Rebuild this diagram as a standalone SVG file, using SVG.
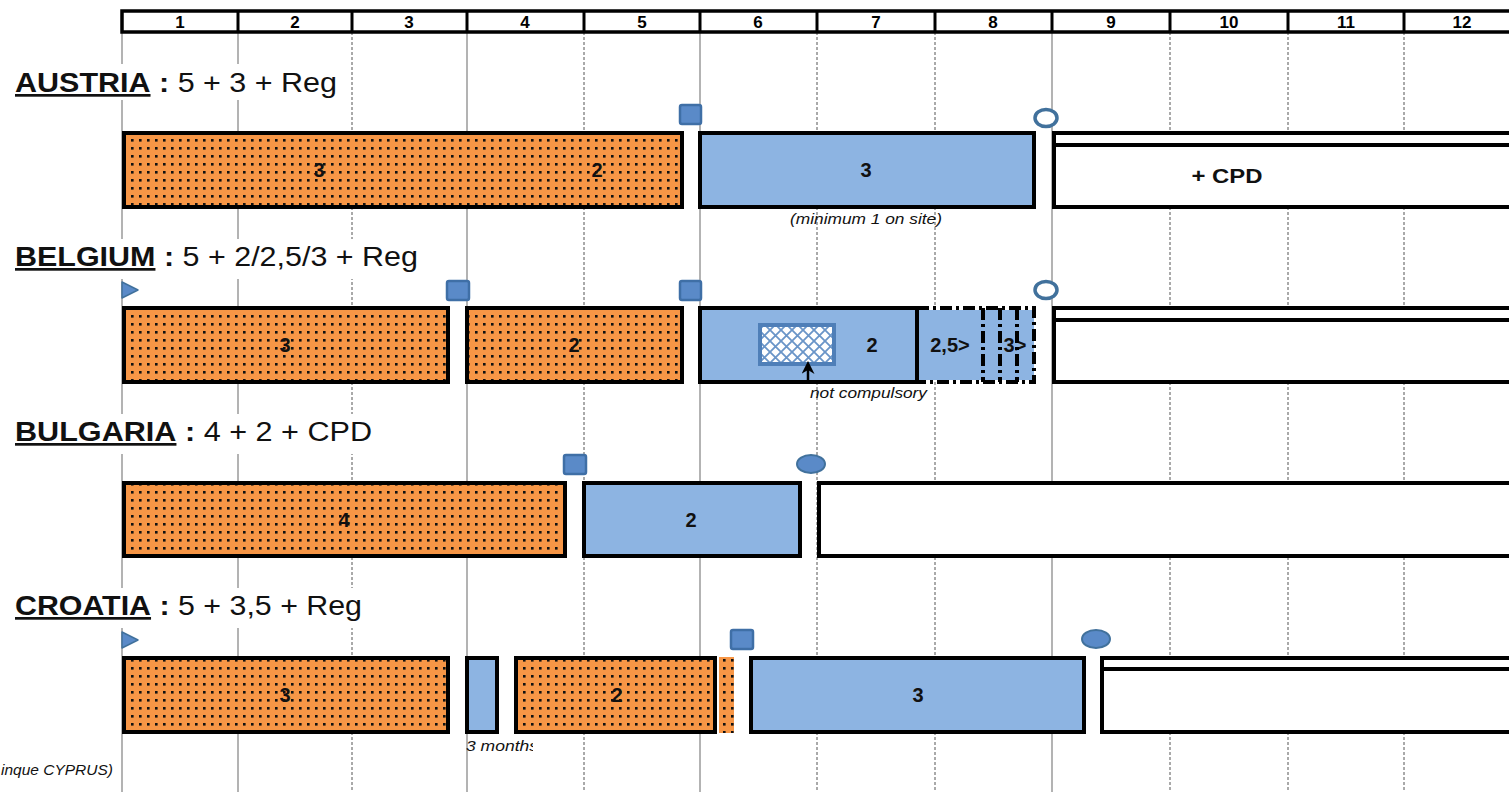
<svg xmlns="http://www.w3.org/2000/svg" width="1509" height="792" viewBox="0 0 1509 792">
<style>
.hd{font-family:"Liberation Sans",Arial,sans-serif;font-weight:bold;font-size:17px;text-anchor:middle}
.lbl{font-family:"Liberation Sans",Arial,sans-serif;font-size:27px;fill:#111}
.lbl .c{font-weight:bold;text-decoration:underline}
.lbl .k{font-weight:bold}
.num{font-family:"Liberation Sans",Arial,sans-serif;font-weight:bold;font-size:20px;text-anchor:middle;fill:#111}
.note{font-family:"Liberation Sans",Arial,sans-serif;font-style:italic;font-size:14px;fill:#111}
.box{stroke:#000;stroke-width:4}
.or{fill:url(#dots)}
.bl{fill:#8db4e2}
.wh{fill:#fff}
.gs{stroke:#8a8a8a;stroke-width:1.3}
.gd{stroke:#555;stroke-width:1;stroke-dasharray:3 2}
.sq{fill:#5a8ac8;stroke:#3f6fa6;stroke-width:2.5}
.ov{fill:#fff;stroke:#41719c;stroke-width:3.5}
.ovf{fill:#5a8ac8;stroke:#41719c;stroke-width:2}
.tri{fill:#5a8ac8;stroke:#41719c;stroke-width:1.5;stroke-linejoin:round}
</style>
<defs>
<pattern id="dots" width="8" height="8" patternUnits="userSpaceOnUse">
<rect width="8" height="8" fill="#f79646"/>
<rect x="3" y="3" width="2.6" height="2.6" fill="#111"/>
</pattern>
<pattern id="hatch" width="11" height="11" patternUnits="userSpaceOnUse">
<rect width="11" height="11" fill="#fff"/>
<path d="M0,0 L11,11 M11,0 L0,11" stroke="#6a95c8" stroke-width="1.8"/>
</pattern>
<marker id="arr" viewBox="0 0 10 10" refX="3" refY="5" markerWidth="13" markerHeight="13" markerUnits="userSpaceOnUse" orient="auto">
<path d="M0,0 L10,5 L0,10 L3,5 z" fill="#000"/>
</marker>
<clipPath id="clipMonths"><rect x="460" y="735" width="73" height="20"/></clipPath>
<clipPath id="clipDash"><rect x="919" y="310" width="114" height="70"/></clipPath>
</defs>
<rect width="1509" height="792" fill="#fff"/>

<g id="grid">
<line class="gs" x1="122" y1="32" x2="122" y2="792"/>
<line class="gs" x1="238" y1="32" x2="238" y2="792"/>
<line class="gd" x1="352" y1="32" x2="352" y2="792"/>
<line class="gs" x1="467" y1="32" x2="467" y2="792"/>
<line class="gd" x1="584" y1="32" x2="584" y2="792"/>
<line class="gs" x1="700" y1="32" x2="700" y2="792"/>
<line class="gd" x1="817" y1="32" x2="817" y2="792"/>
<line class="gd" x1="935" y1="32" x2="935" y2="792"/>
<line class="gs" x1="1052" y1="32" x2="1052" y2="792"/>
<line class="gd" x1="1170" y1="32" x2="1170" y2="792"/>
<line class="gd" x1="1288" y1="32" x2="1288" y2="792"/>
<line class="gd" x1="1404" y1="32" x2="1404" y2="792"/>
</g>

<g id="header">
<rect x="122" y="11" width="1400" height="21" fill="#fff" stroke="#000" stroke-width="3.5"/>
<g stroke="#000" stroke-width="3">
<line x1="238" y1="11" x2="238" y2="32"/><line x1="352" y1="11" x2="352" y2="32"/>
<line x1="467" y1="11" x2="467" y2="32"/><line x1="584" y1="11" x2="584" y2="32"/>
<line x1="700" y1="11" x2="700" y2="32"/><line x1="817" y1="11" x2="817" y2="32"/>
<line x1="935" y1="11" x2="935" y2="32"/><line x1="1052" y1="11" x2="1052" y2="32"/>
<line x1="1170" y1="11" x2="1170" y2="32"/><line x1="1288" y1="11" x2="1288" y2="32"/>
<line x1="1404" y1="11" x2="1404" y2="32"/>
</g>
<text class="hd" x="180" y="28">1</text><text class="hd" x="295" y="28">2</text>
<text class="hd" x="409" y="28">3</text><text class="hd" x="525" y="28">4</text>
<text class="hd" x="642" y="28">5</text><text class="hd" x="758" y="28">6</text>
<text class="hd" x="876" y="28">7</text><text class="hd" x="993" y="28">8</text>
<text class="hd" x="1111" y="28">9</text><text class="hd" x="1229" y="28">10</text>
<text class="hd" x="1346" y="28">11</text><text class="hd" x="1462" y="28">12</text>
</g>

<g id="austria">
<rect x="10" y="64" width="330" height="36" fill="#fff"/>
<text class="lbl" x="15" y="92" textLength="322" lengthAdjust="spacingAndGlyphs"><tspan class="c">AUSTRIA</tspan> <tspan class="k">:</tspan> 5 + 3 + Reg</text>
<rect class="box or" x="124" y="133" width="558" height="74"/>
<text class="num" x="319" y="177">3</text><text class="num" x="597" y="177">2</text>
<rect class="box bl" x="700" y="133" width="334" height="74"/>
<text class="num" x="866" y="177">3</text>
<rect class="box wh" x="1054" y="133" width="470" height="74"/>
<line x1="1054" y1="145" x2="1524" y2="145" stroke="#000" stroke-width="4"/>
<text class="num" x="1227" y="183" textLength="71" lengthAdjust="spacingAndGlyphs">+ CPD</text>
<text class="note" x="866" y="224" text-anchor="middle" textLength="152" lengthAdjust="spacingAndGlyphs">(minimum 1 on site)</text>
<rect class="sq" x="680" y="105" width="21" height="19" rx="2"/>
<ellipse class="ov" cx="1046" cy="118" rx="11" ry="8.5"/>
</g>

<g id="belgium">
<rect x="10" y="239" width="413" height="40" fill="#fff"/>
<text class="lbl" x="15" y="266" textLength="403" lengthAdjust="spacingAndGlyphs"><tspan class="c">BELGIUM</tspan> <tspan class="k">:</tspan> 5 + 2/2,5/3 + Reg</text>
<path class="tri" d="M122,282 L138,290 L122,298 z"/>
<rect class="box or" x="124" y="308" width="324" height="74"/>
<text class="num" x="285" y="352">3</text>
<rect class="box or" x="467" y="308" width="215" height="74"/>
<text class="num" x="574" y="352">2</text>
<rect class="box bl" x="700" y="308" width="217" height="74"/>
<rect x="760" y="325" width="74" height="39" fill="url(#hatch)" stroke="#4f7fb8" stroke-width="4"/>
<text class="num" x="872" y="352">2</text>
<rect x="919" y="310" width="115" height="70" fill="#8db4e2"/>
<g clip-path="url(#clipDash)">
<text class="num" x="1015" y="352" text-anchor="start">3&gt;</text>
</g>
<text class="num" x="950" y="352">2,5&gt;</text>
<g stroke="#000" stroke-width="4" stroke-dasharray="12 4 3 4" fill="none">
<path d="M917,308 L1034,308 L1034,382 L917,382"/>
<line x1="983" y1="308" x2="983" y2="382"/>
<line x1="1000" y1="308" x2="1000" y2="382"/>
<line x1="1017" y1="308" x2="1017" y2="382"/>
</g>
<rect class="box wh" x="1054" y="308" width="470" height="74"/>
<line x1="1054" y1="320" x2="1524" y2="320" stroke="#000" stroke-width="4"/>
<text class="note" x="810" y="398" textLength="117" lengthAdjust="spacingAndGlyphs">not compulsory</text>
<rect class="sq" x="447" y="281" width="22" height="19" rx="2"/>
<rect class="sq" x="680" y="281" width="21" height="19" rx="2"/>
<ellipse class="ov" cx="1046" cy="290" rx="11" ry="8.5"/>
</g>

<g id="bulgaria">
<rect x="10" y="414" width="367" height="40" fill="#fff"/>
<text class="lbl" x="15" y="441" textLength="357" lengthAdjust="spacingAndGlyphs"><tspan class="c">BULGARIA</tspan> <tspan class="k">:</tspan> 4 + 2 + CPD</text>
<rect class="box or" x="124" y="483" width="441" height="73"/>
<text class="num" x="344" y="527">4</text>
<rect class="box bl" x="584" y="483" width="216" height="73"/>
<text class="num" x="691" y="527">2</text>
<rect class="box wh" x="819" y="483" width="705" height="73"/>
<rect class="sq" x="564" y="455" width="22" height="19" rx="2"/>
<ellipse class="ovf" cx="811" cy="464" rx="14" ry="9"/>
</g>

<g id="croatia">
<rect x="10" y="588" width="357" height="40" fill="#fff"/>
<text class="lbl" x="15" y="615" textLength="347" lengthAdjust="spacingAndGlyphs"><tspan class="c">CROATIA</tspan> <tspan class="k">:</tspan> 5 + 3,5 + Reg</text>
<path class="tri" d="M122,632 L138,640 L122,648 z"/>
<rect class="box or" x="124" y="658" width="324" height="74"/>
<text class="num" x="285" y="702">3</text>
<rect class="box bl" x="467" y="658" width="30" height="74"/>
<rect class="box or" x="516" y="658" width="199" height="74"/>
<text class="num" x="617" y="702">2</text>
<rect x="719" y="657" width="15" height="76" fill="url(#dots)"/>
<rect class="box bl" x="751" y="658" width="333" height="74"/>
<text class="num" x="918" y="702">3</text>
<rect class="box wh" x="1102" y="658" width="422" height="74"/>
<line x1="1102" y1="669" x2="1524" y2="669" stroke="#000" stroke-width="4"/>
<rect class="sq" x="731" y="630" width="22" height="19" rx="2"/>
<ellipse class="ovf" cx="1096" cy="639" rx="14" ry="9"/>
<text class="note" x="466" y="751" clip-path="url(#clipMonths)" textLength="72" lengthAdjust="spacingAndGlyphs">3 months</text>
<text class="note" x="1" y="775" textLength="112" lengthAdjust="spacingAndGlyphs">inque CYPRUS)</text>
</g>

<g id="connectors">
<line x1="808" y1="382" x2="808" y2="370" stroke="#000" stroke-width="2.5" marker-end="url(#arr)"/>
</g>
</svg>
